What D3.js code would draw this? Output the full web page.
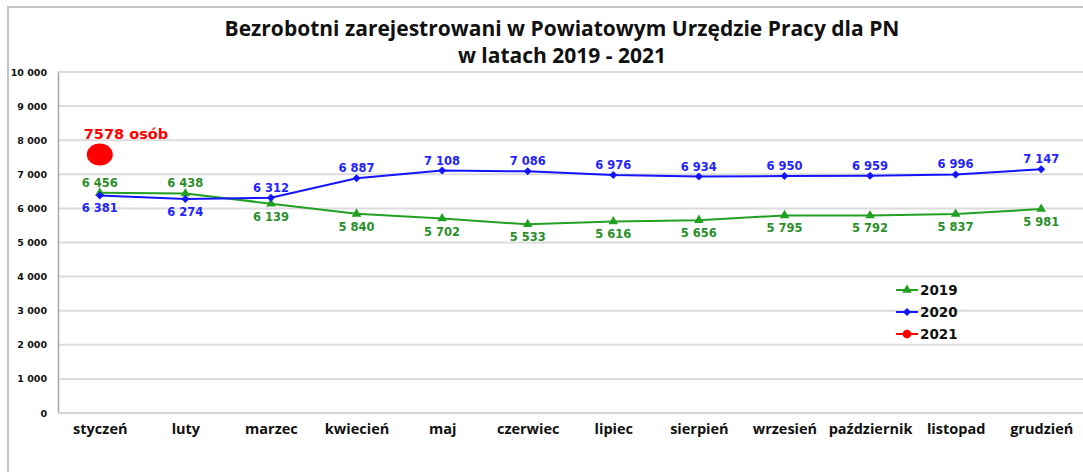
<!DOCTYPE html>
<html><head><meta charset="utf-8">
<script src="https://cdn.jsdelivr.net/npm/d3@7"></script>
<style>body{margin:0;background:#fff}svg{display:block}</style>
</head><body>
<svg id="c" width="1083" height="472"></svg>
<script>
const months = ["styczeń","luty","marzec","kwiecień","maj","czerwiec","lipiec","sierpień","wrzesień","październik","listopad","grudzień"];
const values2019 = [6456,6438,6139,5840,5702,5533,5616,5656,5795,5792,5837,5981];
const values2020 = [6381,6274,6312,6887,7108,7086,6976,6934,6950,6959,6996,7147];
const values2021 = [7578];
const labelPos2019 = ["above","above","below","below","below","below","below","below","below","below","below","below"];
const labelPos2020 = ["below","below","above","above","above","above","above","above","above","above","above","above"];
const yTicks = [0,1000,2000,3000,4000,5000,6000,7000,8000,9000,10000];
const titleLines = ["Bezrobotni zarejestrowani w Powiatowym Urzędzie Pracy dla PN","w latach 2019 - 2021"];
const seriesNames = ["2019","2020","2021"];
const label2021 = "7578 osób";

const svg = d3.select("#c");
const fmt = v => d3.format(",")(v).replace(/,/g, " ");
const green = "#22a022", greenText = "#2a8f2a", blue = "#1414ff", red = "#ff0000";

// outer frame
svg.append("rect").attr("x",8).attr("y",7).attr("width",1100).attr("height",500)
  .attr("fill","none").attr("stroke","#c4c4c4").attr("stroke-width",2);

const x = d3.scalePoint().domain(months).range([57,1084]).padding(0.5);
const y = d3.scaleLinear().domain([0,10000]).range([413,72]);

// gridlines
svg.append("g").selectAll("line").data(yTicks.filter(d=>d>0)).join("line")
  .attr("x1",58).attr("x2",1083).attr("y1",d=>y(d)).attr("y2",d=>y(d))
  .attr("stroke","#dcdcdc").attr("stroke-width",2);

// y axis
const yAxis = svg.append("g").attr("transform","translate(58,0)")
  .call(d3.axisLeft(y).tickValues(yTicks).tickSize(0).tickPadding(11).tickFormat(fmt));
yAxis.select(".domain").attr("stroke","#a8a8a8").attr("stroke-width",1.5);
yAxis.selectAll("text").attr("font-family","DejaVu Sans").attr("font-weight","bold")
  .attr("font-size",9.5).attr("fill","#111");

// x axis
const xAxis = svg.append("g").attr("transform","translate(0,413)")
  .call(d3.axisBottom(x).tickSize(0).tickPadding(11));
xAxis.select(".domain").attr("d","M58,0H1083").attr("stroke","#d4d4d4").attr("stroke-width",2);
xAxis.selectAll("text").attr("font-family","Open Sans").attr("font-weight","bold")
  .attr("font-size",14.5).attr("fill","#111");

// title
svg.append("g").selectAll("text").data(titleLines).join("text")
  .attr("x",562).attr("y",(d,i)=>36+i*27).attr("text-anchor","middle")
  .attr("font-family","Open Sans").attr("font-weight","bold").attr("font-size",21)
  .attr("fill","#111").text(d=>d);

const line = d3.line().x((d,i)=>x(months[i])).y(d=>y(d));

// 2019
svg.append("path").datum(values2019).attr("d",line).attr("fill","none")
  .attr("stroke",green).attr("stroke-width",2);
const tri = d3.symbol().type(d3.symbolTriangle).size(40);
svg.append("g").selectAll("path").data(values2019).join("path")
  .attr("d",tri).attr("fill",green)
  .attr("transform",(d,i)=>`translate(${x(months[i])},${y(d)})`);

// 2020
svg.append("path").datum(values2020).attr("d",line).attr("fill","none")
  .attr("stroke",blue).attr("stroke-width",2);
const dia = d3.symbol().type(d3.symbolSquare).size(32);
svg.append("g").selectAll("path").data(values2020).join("path")
  .attr("d",dia).attr("fill",blue)
  .attr("transform",(d,i)=>`translate(${x(months[i])},${y(d)}) rotate(45)`);

// labels
function labels(vals, pos, color){
  svg.append("g").selectAll("text").data(vals).join("text")
    .attr("x",(d,i)=>x(months[i]))
    .attr("y",(d,i)=>y(d) + (pos[i]==="above" ? -6 : 17))
    .attr("text-anchor","middle").attr("font-family","DejaVu Sans").attr("font-weight","bold")
    .attr("font-size",11.5).attr("fill",color).text(d=>fmt(d));
}
labels(values2019, labelPos2019, greenText);
labels(values2020, labelPos2020, "#2323ff");

// 2021
svg.append("g").selectAll("ellipse").data(values2021).join("ellipse")
  .attr("cx",(d,i)=>x(months[i])).attr("cy",d=>y(d)).attr("rx",13).attr("ry",11).attr("fill",red);
svg.append("text").attr("x",x(months[0])-16).attr("y",y(values2021[0])-16)
  .attr("font-family","DejaVu Sans").attr("font-weight","bold").attr("font-size",14.5)
  .attr("fill",red).text(label2021);

// legend
const lg = svg.append("g").attr("transform","translate(896,290)");
const legItems = [
  {n:seriesNames[0],c:green,s:tri,r:0},
  {n:seriesNames[1],c:blue,s:dia,r:45},
  {n:seriesNames[2],c:red,s:d3.symbol().type(d3.symbolCircle).size(60),r:0}];
legItems.forEach((it,i)=>{
  const g = lg.append("g").attr("transform",`translate(0,${i*22})`);
  g.append("line").attr("x1",0).attr("x2",22).attr("stroke",it.c).attr("stroke-width",2);
  g.append("path").attr("d",it.s).attr("fill",it.c).attr("transform",`translate(11,0) rotate(${it.r})`);
  g.append("text").attr("x",24).attr("y",5).attr("font-family","DejaVu Sans").attr("font-weight","bold")
    .attr("font-size",13.5).attr("fill","#111").text(it.n);
});
</script>
</body></html>
